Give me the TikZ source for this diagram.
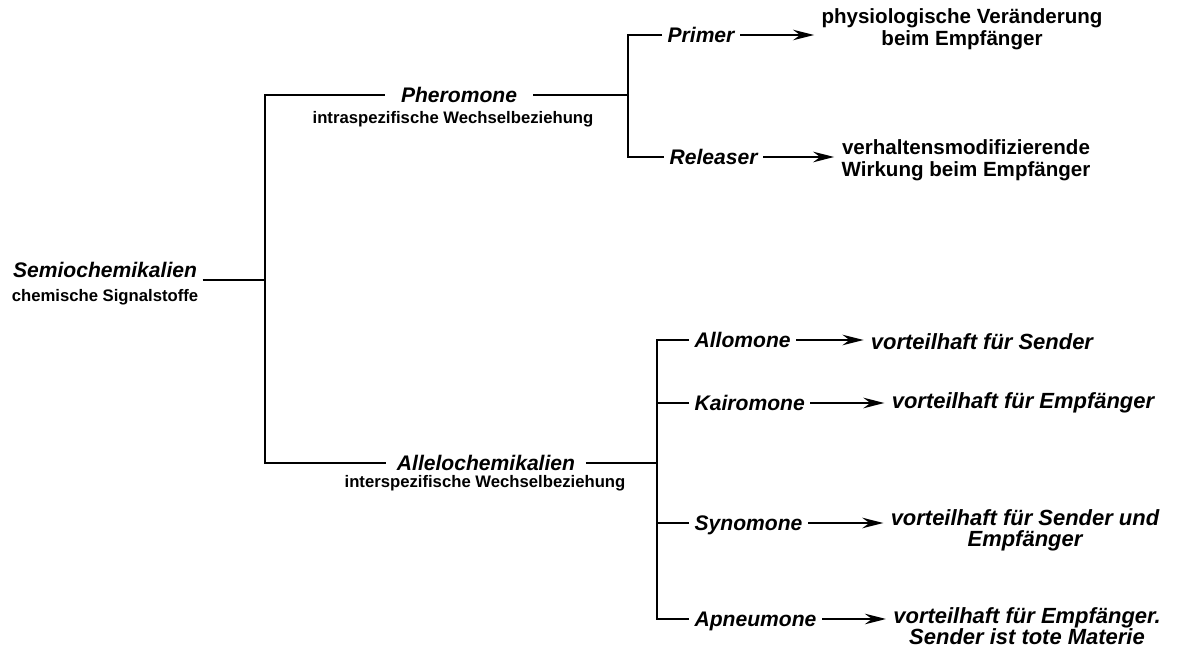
\documentclass[tikz,border=0pt]{standalone}
\usepackage{fontspec}
\setmainfont{Liberation Sans}
\usetikzlibrary{arrows.meta}

\begin{document}
\begin{tikzpicture}[x=0.02cm,y=-0.02cm,
    term/.style={font=\fontsize{12}{14}\selectfont\bfseries\itshape,text depth=0pt,inner xsep=3pt,inner ysep=1pt},
    subnote/.style={font=\fontsize{9.5}{11}\selectfont\bfseries,inner sep=0},
    effect/.style={font=\fontsize{11.7}{12.5}\selectfont\bfseries,align=center,inner xsep=4pt,inner ysep=0},
    effectit/.style={font=\fontsize{12.5}{12}\selectfont\bfseries\itshape,align=center,inner xsep=4pt,inner ysep=0},
    branch/.style={line width=1.1pt},
    thinbranch/.style={line width=0.6pt},
    effarrow/.style={line width=1.2pt,-{Stealth[length=12pt,width=6pt,inset=4pt]}}]

\useasboundingbox (0,0) rectangle (1178,648);

% root

\node (semio) [term] at (105,270) {Semiochemikalien};
\node (semiosub) [subnote] at (105,297) {chemische Signalstoffe};
\coordinate (root) at (265,280);
\draw [branch] (semio.east |- root) -- (root);

% first level

\node (phero) [term,inner xsep=9pt] at (459,95) {Pheromone};
\node (pherosub) [subnote] at (453,119) {intraspezifische Wechselbeziehung};
\node (allelo) [term,inner xsep=6pt] at (486,463) {Allelochemikalien};
\node (allelosub) [subnote] at (485,483) {interspezifische Wechselbeziehung};

\draw [branch] (phero.west) -| (root) |- (allelo.west);

\coordinate (pherofork) at (628,95);
\coordinate (allelofork) at (657,463);
\draw [branch] (phero.east) -- (pherofork);
\draw [thinbranch] (allelo.east) -- (allelofork);

% pheromone branch

\node (primer) [term,anchor=west] at (662,35) {Primer};
\node (releaser) [term,anchor=west] at (664,157) {Releaser};
\draw [branch] (primer.west) -| (pherofork) |- (releaser.west);

\node (primereff) [effect] at (962,29) {physiologische Veränderung\\beim Empfänger};
\node (releasereff) [effect] at (966,160) {verhaltensmodifizierende\\Wirkung beim Empfänger};

\draw [effarrow] (primer.east) -- (primer.east -| primereff.west);
\draw [effarrow] (releaser.east) -- (releaser.east -| releasereff.west);

% allelochemical branch

\foreach \name/\y/\term/\effx/\effy/\effect in {
  allo/340/Allomone/982/342/{vorteilhaft für Sender},
  kairo/403/Kairomone/1023/403/{vorteilhaft für Empfänger},
  syno/523/Synomone/1025/530/{vorteilhaft für Sender und\\Empfänger},
  apneu/619/Apneumone/1027/626/{vorteilhaft für Empfänger.\\Sender ist tote Materie}}
{
    \node (\name) [term,anchor=west] at (689,\y) {\term};
    \node (\name eff) [effectit] at (\effx,\effy) {\effect};
    \draw [effarrow] (\name.east) -- (\name.east -| \name eff.west);
}

\draw [branch] (allo.west) -| (allelofork) |- (apneu.west);
\draw [branch] (kairo.west) -- (kairo.west -| allelofork);
\draw [thinbranch] (syno.west) -- (syno.west -| allelofork);

\end{tikzpicture}
\end{document}
